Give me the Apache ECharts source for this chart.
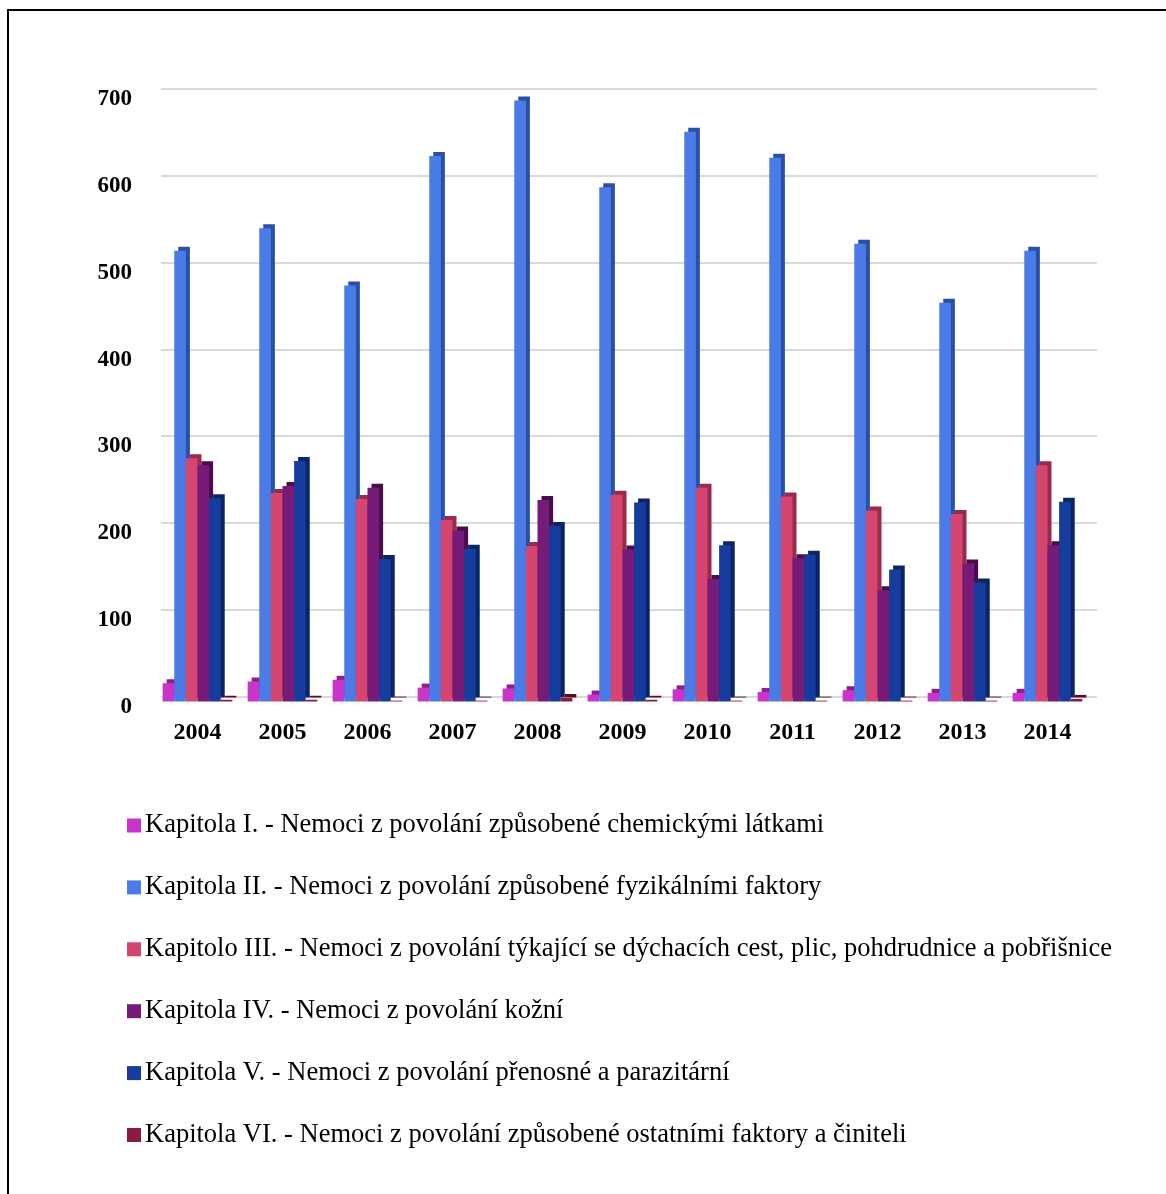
<!DOCTYPE html>
<html>
<head>
<meta charset="utf-8">
<script src="https://cdn.jsdelivr.net/npm/echarts@6/dist/echarts.min.js"></script>
<style>
html,body{margin:0;padding:0;background:#fff;}
#chart{width:1166px;height:1194px;}
</style>
</head>
<body>
<div id="chart"></div>
<script>
var years = ['2004','2005','2006','2007','2008','2009','2010','2011','2012','2013','2014'];
var yTicks = [0,100,200,300,400,500,600,700];
var seriesNames = [
  'Kapitola I. - Nemoci z povolání způsobené chemickými látkami',
  'Kapitola II. - Nemoci z povolání způsobené fyzikálními faktory',
  'Kapitolo III. - Nemoci z povolání týkající se dýchacích cest, plic, pohdrudnice a pobřišnice',
  'Kapitola IV. - Nemoci z povolání kožní',
  'Kapitola V. - Nemoci z povolání přenosné a parazitární',
  'Kapitola VI. - Nemoci z povolání způsobené ostatními faktory a činiteli'
];
var kap1 = [21, 23, 25, 16, 15, 8, 14, 11, 13, 10, 10];
var kap2 = [519, 545, 479, 628, 692, 592, 656, 626, 527, 459, 519];
var kap3 = [280, 240, 233, 209, 179, 238, 246, 236, 220, 216, 272];
var kap4 = [272, 248, 246, 197, 232, 175, 141, 165, 128, 159, 180];
var kap5 = [234, 277, 164, 176, 202, 229, 180, 169, 152, 137, 230];
var kap6 = [2, 2, 1, 1, 4, 2, 1, 1, 1, 1, 3];

var faceColors = ['#c935c9', '#4a7be6', '#d44670', '#761b78', '#163c9e', '#8b1c40'];
var sideColors = ['#8c1f8e', '#2b4ea6', '#9a2a4c', '#480d4a', '#0b2463', '#5a0d25'];
var allData = [kap1, kap2, kap3, kap4, kap5, kap6];

var serif = '"Liberation Serif", "Times New Roman", serif';

var series = allData.map(function (d, i) {
  return {
    name: seriesNames[i],
    type: 'bar',
    xAxisIndex: 0,
    yAxisIndex: 0,
    data: d,
    barGap: '0%',
    barCategoryGap: '18%',
    itemStyle: {
      color: faceColors[i],
      shadowColor: sideColors[i],
      shadowBlur: 0,
      shadowOffsetX: 4,
      shadowOffsetY: -4
    },
    emphasis: { disabled: true }
  };
});

var chart = echarts.init(document.getElementById('chart'), null, {renderer: 'canvas'});
chart.setOption({
  animation: false,
  backgroundColor: '#fff',
  graphic: [
    { type: 'line', shape: { x1: 8, y1: 10, x2: 8, y2: 1194 }, style: { stroke: '#000', lineWidth: 2 } },
    { type: 'line', shape: { x1: 7, y1: 10, x2: 1166, y2: 10 }, style: { stroke: '#000', lineWidth: 2 } }
  ],
  grid: [
    { left: 155, right: 76, top: 93.5, bottom: 492.5, containLabel: false },
    { left: 161, right: 69, top: 88.5, bottom: 497, containLabel: false }
  ],
  xAxis: [
    {
      type: 'category', gridIndex: 0, data: years,
      axisLine: { show: false }, axisTick: { show: false },
      axisLabel: { color: '#000', fontFamily: serif, fontWeight: 'bold', fontSize: 24, margin: 19 }
    },
    {
      type: 'category', gridIndex: 1, data: years, show: false
    }
  ],
  yAxis: [
    {
      type: 'value', gridIndex: 0, min: 0, max: 700, interval: 100,
      axisLine: { show: false }, axisTick: { show: false },
      splitLine: { show: false },
      axisLabel: { color: '#000', fontFamily: serif, fontWeight: 'bold', fontSize: 23, margin: 23, verticalAlign: 'top', lineHeight: 11 }
    },
    {
      type: 'value', gridIndex: 1, min: 0, max: 700, interval: 100,
      axisLine: { show: false }, axisTick: { show: false },
      axisLabel: { show: false },
      splitLine: { show: true, lineStyle: { color: '#d9d9d9', width: 2 } }
    }
  ],
  legend: {
    orient: 'vertical',
    left: 122,
    top: 807,
    itemWidth: 14,
    itemHeight: 14,
    itemGap: 34.9,
    icon: 'rect',
    data: seriesNames,
    textStyle: { color: '#000', fontFamily: serif, fontSize: 26.5, lineHeight: 26.5, padding: [0,0,0,-1] }
  },
  series: series
});
</script>
</body>
</html>
